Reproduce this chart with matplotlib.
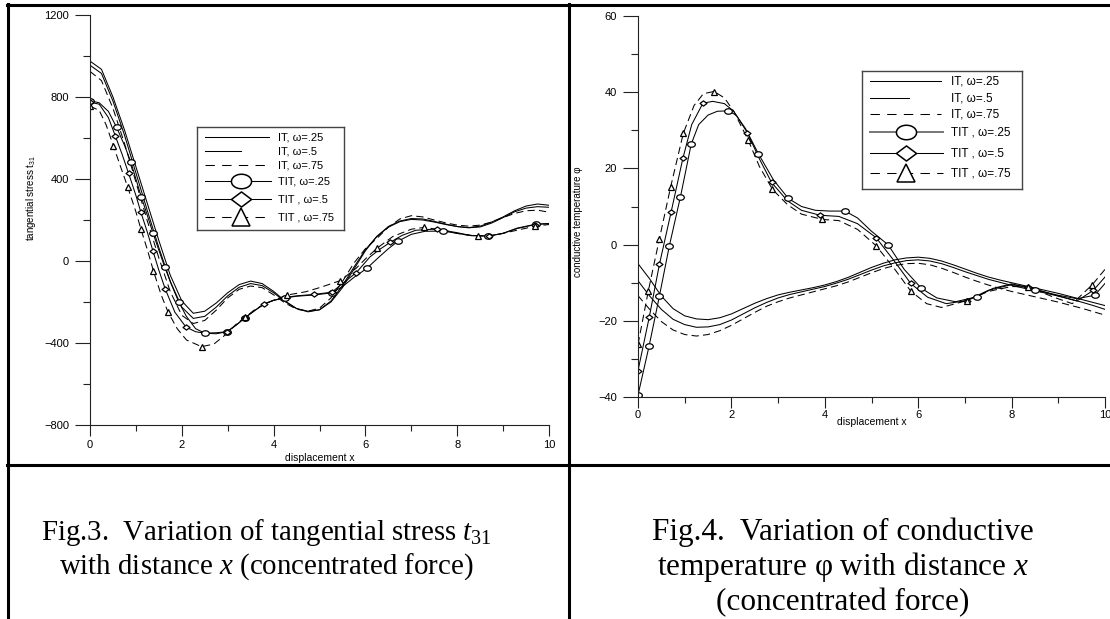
import numpy as np
import matplotlib
matplotlib.use("Agg")
import matplotlib.pyplot as plt
from matplotlib.path import Path
from matplotlib.lines import Line2D

plt.rcParams['font.family'] = ['Liberation Sans', 'DejaVu Sans']
plt.rcParams['mathtext.fontset'] = 'custom'
plt.rcParams['mathtext.rm'] = 'Liberation Serif'
plt.rcParams['mathtext.it'] = 'Liberation Serif:italic'
plt.rcParams['mathtext.sf'] = 'Liberation Sans'

# ---------------- data : Fig.3, tangential stress t31 ----------------
x_grid = np.arange(0, 10.25, 0.25)   # common abscissa of the IT curves

st_it25 = [975, 935, 800, 640, 460, 280, 100, -70, -195, -255, -245, -205, -155, -115,
           -98, -110, -148, -195, -232, -248, -238, -195, -120, -30, 55, 120, 165, 192,
           203, 200, 190, 178, 168, 163, 170, 190, 215, 245, 268, 278, 272]
st_it5 = [955, 915, 780, 615, 430, 245, 65, -100, -225, -280, -270, -225, -170, -128,
          -110, -120, -155, -198, -232, -245, -238, -200, -130, -40, 50, 120, 168, 195,
          207, 205, 193, 180, 168, 162, 166, 185, 212, 240, 258, 265, 262]
st_it75 = [925, 880, 745, 575, 385, 195, 15, -150, -265, -305, -290, -240, -180, -138,
           -122, -130, -165, -205, -235, -245, -230, -180, -100, -10, 60, 110, 165, 205,
           221, 215, 200, 186, 175, 170, 175, 190, 212, 232, 245, 248, 238]

st_tit25_x = [0, 0.2, 0.4, 0.58, 0.75, 0.89, 1.0, 1.12, 1.25, 1.37, 1.5, 1.63, 1.78, 1.93,
              2.1, 2.3, 2.5, 2.75, 2.98, 3.2, 3.38, 3.6, 3.78, 4.0, 4.25, 4.5, 4.86, 5.1,
              5.27, 5.5, 5.75, 6.03, 6.3, 6.5, 6.72, 7.0, 7.3, 7.68, 8.0, 8.3, 8.68, 9.0,
              9.3, 9.72, 10]
st_tit25_y = [782, 772, 730, 652, 565, 483, 400, 311, 222, 138, 53, -31, -118, -198,
              -270, -330, -352, -355, -345, -310, -276, -240, -210, -192, -180, -172,
              -166, -160, -155, -125, -80, -36, 20, 60, 98, 130, 145, 146, 135, 124, 122,
              135, 160, 180, 183]
st_tit5_x = [0, 0.2, 0.4, 0.55, 0.7, 0.84, 1.0, 1.11, 1.25, 1.37, 1.5, 1.64, 1.85, 2.09,
             2.3, 2.5, 2.75, 2.99, 3.2, 3.38, 3.6, 3.79, 4.0, 4.25, 4.5, 4.88, 5.27, 5.5,
             5.8, 6.1, 6.3, 6.54, 6.8, 7.1, 7.55, 8.0, 8.3, 8.7, 9.0, 9.3, 9.7, 10]
st_tit5_y = [775, 765, 700, 611, 520, 428, 320, 237, 140, 50, -45, -137, -250, -322,
             -345, -352, -350, -345, -310, -276, -240, -211, -192, -178, -170, -163, -152,
             -110, -57, 20, 55, 91, 125, 150, 156, 138, 124, 122, 135, 158, 178, 182]
st_tit75_x = [0, 0.2, 0.35, 0.51, 0.65, 0.82, 1.0, 1.11, 1.25, 1.38, 1.55, 1.70, 1.9, 2.1,
              2.43, 2.7, 2.95, 3.2, 3.38, 3.6, 3.9, 4.3, 4.7, 5.0, 5.2, 5.45, 5.8, 6.0,
              6.25, 6.6, 7.0, 7.28, 7.7, 8.1, 8.46, 8.8, 9.2, 9.7, 10]
st_tit75_y = [755, 735, 665, 562, 470, 362, 240, 155, 55, -47, -165, -249, -330, -385,
              -418, -405, -360, -305, -275, -235, -200, -166, -150, -130, -115, -96, -35,
              10, 62, 120, 155, 164, 150, 130, 122, 125, 145, 170, 178]

# marked points on the TIT curves
st_m25_x = [0, 0.58, 0.89, 1.12, 1.37, 1.63, 1.93, 2.5, 2.98, 3.38, 4.25, 5.27, 6.03, 6.72, 7.68, 8.68, 9.72]
st_m25_y = [782, 652, 483, 311, 138, -31, -198, -353, -345, -276, -180, -155, -36, 98, 146, 122, 180]
st_m5_x = [0, 0.55, 0.84, 1.11, 1.37, 1.64, 2.09, 2.99, 3.38, 3.79, 4.88, 5.27, 5.8, 6.54, 7.55, 8.7, 9.7]
st_m5_y = [775, 611, 428, 237, 50, -137, -322, -345, -276, -211, -163, -152, -57, 91, 156, 122, 178]
st_m75_x = [0, 0.51, 0.82, 1.11, 1.38, 1.70, 2.43, 3.38, 4.30, 5.45, 6.25, 7.28, 8.46, 9.7]
st_m75_y = [755, 562, 362, 155, -47, -249, -418, -275, -166, -96, 62, 164, 122, 170]

# ---------------- data : Fig.4, conductive temperature ----------------
te_it25 = [-5.0, -9.0, -13.5, -16.8, -18.7, -19.5, -19.7, -19.2, -18.2, -16.8, -15.4,
           -14.2, -13.2, -12.5, -11.9, -11.3, -10.6, -9.7, -8.6, -7.3, -6.0, -4.9, -4.0,
           -3.5, -3.3, -3.6, -4.3, -5.3, -6.4, -7.5, -8.5, -9.3, -10.0, -10.7, -11.4,
           -12.1, -12.8, -13.6, -14.4, -15.2, -16.0]
te_it5 = [-9.5, -13.5, -17.0, -19.6, -21.0, -21.7, -21.6, -21.0, -19.8, -18.2, -16.6,
          -15.2, -14.0, -13.1, -12.4, -11.7, -11.0, -10.1, -9.1, -7.9, -6.7, -5.6, -4.8,
          -4.2, -4.0, -4.3, -5.0, -6.0, -7.1, -8.1, -9.1, -9.9, -10.7, -11.4, -12.1,
          -12.8, -13.5, -14.3, -15.1, -16.0, -17.0]
te_it75 = [-13.4, -17.0, -20.2, -22.4, -23.6, -24.0, -23.6, -22.6, -21.2, -19.5, -17.8,
           -16.2, -15.0, -14.0, -13.2, -12.4, -11.6, -10.8, -9.8, -8.6, -7.4, -6.3, -5.5,
           -5.0, -4.9, -5.3, -6.2, -7.3, -8.5, -9.6, -10.6, -11.5, -12.3, -13.0, -13.7,
           -14.4, -15.1, -15.9, -16.7, -17.6, -18.5]

te_tit25_x = [0, 0.24, 0.46, 0.67, 0.91, 1.14, 1.3, 1.5, 1.7, 1.93, 2.1, 2.3, 2.58, 2.9,
              3.22, 3.5, 3.8, 4.1, 4.43, 4.7, 5.0, 5.36, 5.7, 6.07, 6.4, 6.8, 7.25, 7.6,
              8.0, 8.5, 9.0, 9.4, 9.78, 10]
te_tit25_y = [-39.5, -26.5, -13.4, -0.4, 12.6, 26.4, 31.5, 34.0, 35.0, 35.1, 34.0, 30.5,
              23.8, 17.0, 12.1, 10.0, 9.0, 8.8, 8.8, 7.0, 3.5, -0.1, -6.5, -11.5, -14.0,
              -15.0, -13.7, -11.5, -10.3, -11.9, -13.3, -14.2, -13.3, -10.2]
te_tit5_x = [0, 0.24, 0.46, 0.71, 0.96, 1.15, 1.39, 1.6, 1.85, 2.05, 2.34, 2.6, 2.86, 3.2,
             3.5, 3.9, 4.3, 4.7, 5.1, 5.5, 5.84, 6.2, 6.6, 7.04, 7.5, 8.0, 8.36, 9.0, 9.4,
             9.75, 10]
te_tit5_y = [-33.1, -19.1, -5.1, 8.6, 22.6, 31.5, 37.1, 37.6, 37.0, 35.0, 29.4, 22.5, 16.3,
             11.5, 9.0, 7.7, 7.4, 5.5, 1.8, -4.5, -10.2, -13.8, -15.5, -14.7, -12.0, -10.5,
             -11.1, -13.5, -14.8, -12.0, -8.5]
te_tit75_x = [0, 0.22, 0.46, 0.70, 0.97, 1.2, 1.4, 1.63, 1.85, 2.05, 2.36, 2.6, 2.88, 3.2,
              3.5, 3.95, 4.3, 4.7, 5.1, 5.5, 5.84, 6.18, 6.5, 7.04, 7.5, 8.0, 8.36, 8.9,
              9.3, 9.73, 10]
te_tit75_y = [-26.2, -12.2, 1.6, 15.2, 29.2, 36.5, 39.6, 40.2, 38.5, 35.0, 27.4, 20.5,
              14.5, 10.5, 8.0, 6.6, 6.3, 4.0, -0.3, -6.5, -12.2, -15.5, -16.5, -14.7,
              -12.3, -11.0, -11.1, -13.8, -15.5, -10.5, -6.5]

te_m25_x = [0, 0.24, 0.46, 0.67, 0.91, 1.14, 1.93, 2.58, 3.22, 4.43, 5.36, 6.07, 7.25, 8.5, 9.78]
te_m25_y = [-39.5, -26.5, -13.4, -0.4, 12.6, 26.4, 35.1, 23.8, 12.1, 8.8, -0.1, -11.5, -13.7, -11.9, -13.3]
te_m5_x = [0, 0.24, 0.46, 0.71, 0.96, 1.39, 2.34, 2.86, 3.90, 5.1, 5.84, 7.04, 8.36, 9.75]
te_m5_y = [-33.1, -19.1, -5.1, 8.6, 22.6, 37.1, 29.4, 16.3, 7.7, 1.8, -10.2, -14.7, -11.1, -12.0]
te_m75_x = [0, 0.22, 0.46, 0.70, 0.97, 1.63, 2.36, 2.88, 3.95, 5.1, 5.84, 7.04, 8.36, 9.73]
te_m75_y = [-26.2, -12.2, 1.6, 15.2, 29.2, 40.0, 27.4, 14.5, 6.6, -0.3, -12.2, -14.7, -11.1, -10.5]

labels_3 = ["IT, ω=.25", "IT, ω=.5", "IT, ω=.75", "TIT, ω=.25", "TIT , ω=.5", "TIT , ω=.75"]
labels_4 = ["IT, ω=.25", "IT, ω=.5", "IT, ω=.75", "TIT , ω=.25", "TIT , ω=.5", "TIT , ω=.75"]

# ---------------- figure ----------------
W, H = 1110, 619
fig = plt.figure(figsize=(W / 100, H / 100), dpi=100)


def rect(x0, y0, x1, y1):
    # pixel box (top-left origin) -> figure fraction
    return [x0 / W, 1 - y1 / H, (x1 - x0) / W, (y1 - y0) / H]


# marker shapes : flat ellipse and flat diamond
t = np.linspace(0, 2 * np.pi, 48)
ellipse = Path(np.column_stack([np.cos(t), 0.72 * np.sin(t)]), closed=True)
diamond = Path([(0, 0.75), (1, 0), (0, -0.75), (-1, 0), (0, 0.75)], closed=True)

LW = 0.75
DASH = (7, 4)
mk = dict(mfc='white', mec='black', mew=0.9, ls='none')


def style_axes(ax, ymin, ymax, ymaj, ymin_t, xpad, lsize):
    ax.set_xlim(0, 10)
    ax.set_ylim(ymin, ymax)
    ax.set_xticks([0, 2, 4, 6, 8, 10])
    ax.set_xticks([1, 3, 5, 7, 9], minor=True)
    ax.set_yticks(ymaj)
    ax.set_yticks(ymin_t, minor=True)
    for s in ['top', 'right']:
        ax.spines[s].set_visible(False)
    for s in ['left', 'bottom']:
        ax.spines[s].set_linewidth(0.8)
        ax.spines[s].set_color('#222222')
    ax.tick_params(axis='y', which='major', length=11, width=0.8, labelsize=lsize, pad=4, color='#222222')
    ax.tick_params(axis='y', which='minor', length=5, width=0.8, color='#222222')
    ax.tick_params(axis='x', which='major', length=8, width=0.8, labelsize=lsize, pad=xpad, color='#222222')
    ax.tick_params(axis='x', which='minor', length=4, width=0.8, color='#222222')
    ax.patch.set_alpha(0)


# ---- Fig.3 ----
ax1 = fig.add_axes(rect(90, 15, 549, 425))
ax1.plot(x_grid, st_it25, color='black', lw=LW)
ax1.plot(x_grid, st_it5, color='black', lw=LW)
ax1.plot(x_grid, st_it75, color='black', lw=LW, dashes=DASH)
ax1.plot(st_tit25_x, st_tit25_y, color='black', lw=LW)
ax1.plot(st_tit5_x, st_tit5_y, color='black', lw=LW)
ax1.plot(st_tit75_x, st_tit75_y, color='black', lw=LW, dashes=DASH)
ax1.plot(st_m25_x, st_m25_y, marker=ellipse, ms=5.5, **mk)
ax1.plot(st_m5_x, st_m5_y, marker=diamond, ms=5, **mk)
ax1.plot(st_m75_x, st_m75_y, marker='^', ms=4.5, **mk)
style_axes(ax1, -800, 1200, [-800, -400, 0, 400, 800, 1200], [-600, -200, 200, 600, 1000], 3, 8)
ax1.set_xlabel("displacement x", fontsize=7.5)
ax1.xaxis.set_label_coords(0.5, -0.068)
ax1.set_ylabel("tangential stress t$_{\\mathsf{31}}$", fontsize=7)
ax1.yaxis.set_label_coords(-0.113, 0.554)

# ---- Fig.4 ----
ax2 = fig.add_axes(rect(638, 16, 1105, 397))
ax2.plot(x_grid, te_it25, color='black', lw=LW)
ax2.plot(x_grid, te_it5, color='black', lw=LW)
ax2.plot(x_grid, te_it75, color='black', lw=LW, dashes=DASH)
ax2.plot(te_tit25_x, te_tit25_y, color='black', lw=LW)
ax2.plot(te_tit5_x, te_tit5_y, color='black', lw=LW)
ax2.plot(te_tit75_x, te_tit75_y, color='black', lw=LW, dashes=DASH)
ax2.plot(te_m25_x, te_m25_y, marker=ellipse, ms=5.5, **mk)
ax2.plot(te_m5_x, te_m5_y, marker=diamond, ms=5, **mk)
ax2.plot(te_m75_x, te_m75_y, marker='^', ms=4.5, **mk)
style_axes(ax2, -40, 60, [-40, -20, 0, 20, 40, 60], [-30, -10, 10, 30, 50], 1, 8)
ax2.set_xlabel("displacement x", fontsize=7.5)
ax2.xaxis.set_label_coords(0.5, -0.052)
ax2.set_ylabel("conductive temperature φ", fontsize=7)
ax2.yaxis.set_label_coords(-0.118, 0.459)


# ---- hand made legends (pixel coordinates inside the box) ----
def legend_box(box, rows, x_long, x_short, x_mark, x_text, labels, first_gray, tsize):
    lax = fig.add_axes(rect(*box))
    w, h = box[2] - box[0], box[3] - box[1]
    lax.set_xlim(0, w)
    lax.set_ylim(h, 0)
    lax.set_xticks([])
    lax.set_yticks([])
    for s in lax.spines.values():
        s.set_edgecolor('#444444')
        s.set_linewidth(1.0)
    specs = [
        (x_long, None, None),
        (x_short, None, None),
        (x_long, (9, 7), None),
        (x_long + 2, None, ellipse),
        (x_long + 2, None, diamond),
        (x_long + 2, (9, 7), '^'),
    ]
    for k, (xe, dsh, m) in enumerate(specs):
        y = rows[k]
        col = '#777777' if (k == 3 and first_gray) else 'black'
        lw = 1.4 if (k == 3 and first_gray) else LW
        kw = dict(color=col, lw=lw)
        if dsh:
            kw['dashes'] = dsh
        lax.plot([8, xe], [y, y], **kw)
        if m is not None:
            lax.plot([x_mark], [y], marker=m, ms=14.5 if m != '^' else 13,
                     mfc='white', mec='black', mew=1.1, ls='none')
        lax.text(x_text, y, labels[k], fontsize=tsize, va='center', ha='left')


legend_box((197, 127, 344, 230), [10, 24, 38, 54, 72, 90], 72, 44, 44, 81, labels_3, False, 8)
legend_box((862, 71, 1022, 189), [10, 27, 43, 61, 82, 102], 79, 47, 44, 89, labels_4, True, 8.5)

# ---- table borders ----
def hline(y, x0, x1):
    fig.add_artist(Line2D([x0 / W, x1 / W], [1 - y / H, 1 - y / H], transform=fig.transFigure,
                          color='black', lw=2.2))


def vline(x, y0, y1):
    fig.add_artist(Line2D([x / W, x / W], [1 - y0 / H, 1 - y1 / H], transform=fig.transFigure,
                          color='black', lw=2.2))


hline(5, 7, W)
hline(465, 7, W)
vline(8, 4, H)
vline(569, 4, H)

# ---- captions ----
cap3 = dict(fontfamily='Liberation Serif', fontsize=20.8, ha='center', va='center')
cap4 = dict(fontfamily='Liberation Serif', fontsize=22.5, ha='center', va='center')
fig.text(266 / W, 1 - 532 / H, "Fig.3.  Variation of tangential stress $t_{31}$", **cap3)
fig.text(266 / W, 1 - 567 / H, "with distance $x$ (concentrated force)", **cap3)
fig.text(843 / W, 1 - 532 / H, "Fig.4.  Variation of conductive", **cap4)
fig.text(843 / W, 1 - 567 / H, "temperature φ with distance $x$", **cap4)
fig.text(843 / W, 1 - 603 / H, "(concentrated force)", **cap4)

fig.savefig("out.png", dpi=100)
